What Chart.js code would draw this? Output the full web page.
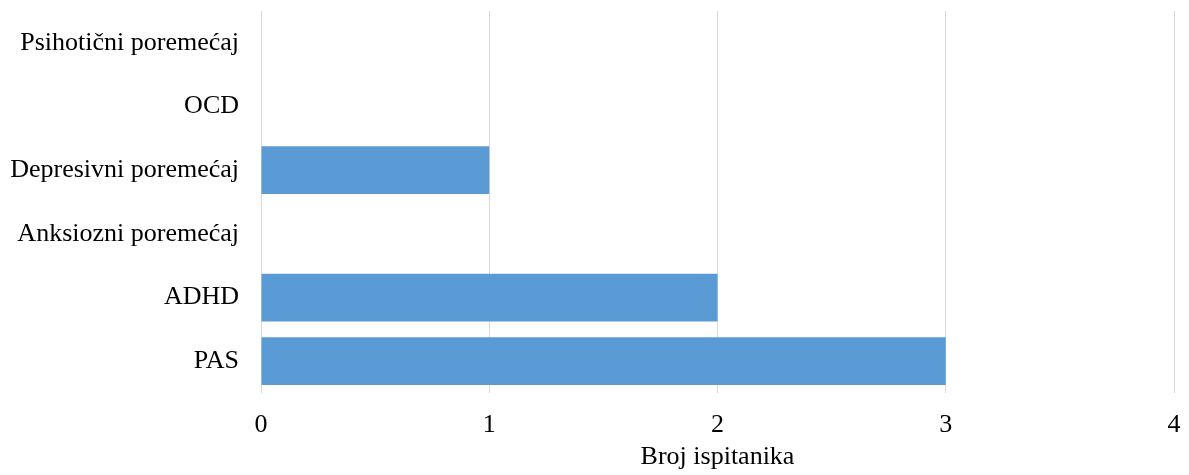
<!DOCTYPE html>
<html>
<head>
<meta charset="utf-8">
<script src="https://cdn.jsdelivr.net/npm/chart.js@4/dist/chart.umd.min.js"></script>
<style>
  html, body { margin: 0; padding: 0; background: #fff; }
  #wrap { width: 1189px; height: 475px; }
</style>
</head>
<body>
<div id="wrap"><canvas id="graph"></canvas></div>
<script>
// categories top to bottom, as in the picture
var categories = ['Psihotični poremećaj', 'OCD', 'Depresivni poremećaj', 'Anksiozni poremećaj', 'ADHD', 'PAS'];
var counts = [0, 0, 1, 0, 2, 3];
var xTicks = [0, 1, 2, 3, 4];
var xTitle = 'Broj ispitanika';

var ctx = document.getElementById('graph').getContext('2d');
var graph = new Chart(ctx, {
    type: 'bar',
    data: {
        labels: categories,
        datasets: [{
            label: xTitle,
            data: counts,
            backgroundColor: '#5B9BD5',
            borderWidth: 0,
            barPercentage: 0.75,
            categoryPercentage: 1
        }]
    },
    options: {
        indexAxis: 'y',
        responsive: true,
        maintainAspectRatio: false,
        animation: false,
        layout: {
            padding: { top: 11, right: 15, bottom: 0, left: 0 }
        },
        plugins: {
            legend: { display: false },
            tooltip: { enabled: false }
        },
        scales: {
            x: {
                min: xTicks[0],
                max: xTicks[xTicks.length - 1],
                afterBuildTicks: function(scale) {
                    scale.ticks = xTicks.map(function(v) { return { value: v }; });
                },
                grid: { color: '#d9d9d9', lineWidth: 1, drawTicks: false },
                border: { display: false },
                ticks: {
                    color: '#000',
                    padding: 17,
                    font: { family: 'Liberation Serif', size: 26 }
                },
                title: {
                    display: true,
                    text: xTitle,
                    color: '#000',
                    padding: { top: 8, bottom: 2 },
                    font: { family: 'Liberation Serif', size: 26 }
                },
                afterFit: function(scale) {
                    scale.height = 82;
                    scale.paddingLeft = 0;
                    scale.paddingRight = 0;
                }
            },
            y: {
                grid: { display: false, drawTicks: false },
                border: { display: false },
                ticks: {
                    color: '#000',
                    padding: 22,
                    font: { family: 'Liberation Serif', size: 26 }
                },
                afterFit: function(scale) {
                    scale.width = 261;
                    scale.paddingTop = 0;
                    scale.paddingBottom = 0;
                }
            }
        }
    }
});
</script>
</body>
</html>
